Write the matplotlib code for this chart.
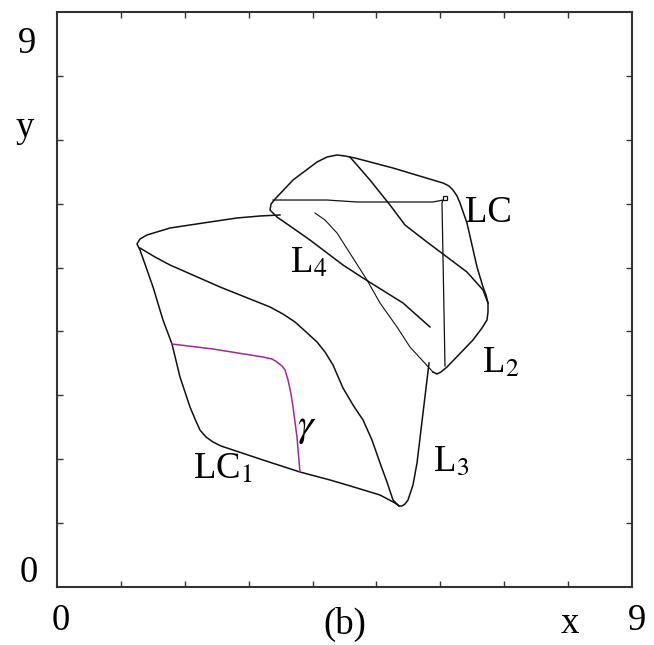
import matplotlib
matplotlib.use("Agg")
import matplotlib.pyplot as plt

plt.rcParams['font.family'] = ['Liberation Serif', 'DejaVu Serif']
plt.rcParams['mathtext.fontset'] = 'stix'

# ---- data ----
# LC1 boundary: upper edge -> left tip -> left edge -> bottom -> V bottom -> right branch of L3
lc1_x = [3.490, 3.177, 2.817, 2.285, 1.769, 1.409, 1.299, 1.252, 1.299, 1.503, 1.659, 1.800,
         1.925, 2.082, 2.160, 2.238, 2.332, 2.442, 2.567, 2.708, 3.224, 3.803, 4.273, 4.539,
         5.056, 5.290, 5.353, 5.400, 5.447, 5.494, 5.572, 5.635, 5.729, 5.791, 5.823]
lc1_y = [5.823, 5.807, 5.776, 5.697, 5.619, 5.510, 5.447, 5.369, 5.275, 4.696, 4.179, 3.803,
         3.287, 2.817, 2.630, 2.457, 2.348, 2.270, 2.207, 2.160, 1.988, 1.800, 1.675, 1.597,
         1.440, 1.315, 1.268, 1.268, 1.299, 1.362, 1.597, 1.941, 2.723, 3.240, 3.506]

# L3 left branch (from left tip to V bottom)
l3_x = [1.299, 1.534, 1.769, 2.160, 2.551, 3.021, 3.334, 3.537, 3.725, 3.882, 4.070, 4.195,
        4.320, 4.476, 4.633, 4.790, 4.930, 5.056, 5.165, 5.259, 5.353]
l3_y = [5.306, 5.165, 5.040, 4.868, 4.696, 4.508, 4.383, 4.273, 4.148, 4.007, 3.835, 3.678,
        3.475, 3.115, 2.849, 2.614, 2.301, 1.941, 1.643, 1.362, 1.268]

# gamma curve
gam_x = [1.800, 2.442, 3.224, 3.365, 3.443, 3.522, 3.569, 3.616, 3.663, 3.694, 3.756, 3.803]
gam_y = [3.803, 3.725, 3.600, 3.569, 3.522, 3.459, 3.397, 3.240, 3.021, 2.817, 2.348, 1.800]

# LC loop (thick part)
lc_x = [5.838, 5.416, 4.790, 4.476, 3.960, 3.647, 3.443, 3.334, 3.350, 3.428, 3.694, 4.070,
        4.226, 4.383, 4.508, 4.664, 5.259, 6.042, 6.136, 6.198, 6.261, 6.308, 6.417, 6.574,
        6.668, 6.715, 6.746, 6.746, 6.730, 6.652, 6.511, 6.104, 6.010, 5.948, 5.885]
lc_y = [4.070, 4.445, 4.836, 5.040, 5.431, 5.650, 5.791, 5.901, 5.995, 6.089, 6.370, 6.652,
        6.730, 6.762, 6.746, 6.715, 6.558, 6.323, 6.276, 6.214, 6.120, 6.010, 5.697, 5.009,
        4.696, 4.570, 4.445, 4.304, 4.179, 4.054, 3.866, 3.443, 3.365, 3.334, 3.365]

# L4 thin trajectory
l4_x = [5.885, 5.525, 5.322, 5.056, 4.852, 4.383, 4.195, 4.038]
l4_y = [3.365, 3.756, 4.070, 4.445, 4.805, 5.541, 5.744, 5.854]

# S-shaped curve inside the LC loop
s_x = [4.586, 4.899, 5.212, 5.447, 5.791, 6.104, 6.417, 6.668, 6.746]
s_y = [6.730, 6.370, 5.979, 5.666, 5.400, 5.165, 4.930, 4.649, 4.445]

# L2: horizontal then vertical segment
l2_x = [3.381, 4.226, 4.696, 5.885, 6.042, 6.026, 6.073]
l2_y = [6.057, 6.057, 6.026, 6.026, 6.057, 6.010, 3.459]
pt_x = [6.073]
pt_y = [6.088]

# ---- figure ----
fig = plt.figure(figsize=(6.54, 6.45), dpi=100)
ax = fig.add_axes([57/654, (645-587)/645, 575/654, 575/645])
ax.set_xlim(0, 9)
ax.set_ylim(0, 9)

k = '#111111'
ax.plot(lc1_x, lc1_y, color=k, lw=1.1, solid_joinstyle='round')
ax.plot(l3_x, l3_y, color=k, lw=1.1, solid_joinstyle='round')
ax.plot(gam_x, gam_y, color='#9b2a9b', lw=1.1, solid_joinstyle='round')
ax.plot(lc_x, lc_y, color=k, lw=1.1, solid_joinstyle='round')
ax.plot(l4_x, l4_y, color=k, lw=0.8)
ax.plot(s_x, s_y, color=k, lw=1.1, solid_joinstyle='round')
ax.plot(l2_x, l2_y, color=k, lw=0.9)
ax.plot(pt_x, pt_y, 's', ms=3, mfc='white', mec=k, mew=0.9)

ax.set_xticks(range(1, 9))
ax.set_yticks(range(1, 9))
ax.set_xticklabels([])
ax.set_yticklabels([])
ax.tick_params(direction='in', length=4, width=1, color='#333333',
               top=True, right=True, bottom=True, left=True)
for s in ax.spines.values():
    s.set_linewidth(1.5)
    s.set_color('#333333')

fs = 26.5
tr = ax.transAxes
ax.text(0.007, -0.0748, '0', transform=tr, ha='center', va='baseline', fontsize=fs)
ax.text(1.0087, -0.0748, '9', transform=tr, ha='center', va='baseline', fontsize=fs)
ax.text(0.892, -0.080, 'x', transform=tr, ha='center', va='baseline', fontsize=fs)
ax.text(0.501, -0.0820, '(b)', transform=tr, ha='center', va='baseline', fontsize=fs)
ax.text(-0.052, 0.9287, '9', transform=tr, ha='center', va='baseline', fontsize=fs)
ax.text(-0.0557, 0.7826, 'y', transform=tr, ha='center', va='baseline', fontsize=fs)
ax.text(-0.0487, 0.0087, '0', transform=tr, ha='center', va='baseline', fontsize=fs)

ax.text(6.386, 5.713, 'LC', ha='left', va='baseline', fontsize=fs)
ax.text(3.647, 4.930, r'L$_4$', ha='left', va='baseline', fontsize=fs)
ax.text(6.652, 3.365, r'L$_2$', ha='left', va='baseline', fontsize=fs)
ax.text(5.885, 1.816, r'L$_3$', ha='left', va='baseline', fontsize=fs)
ax.text(2.129, 1.706, r'LC$_1$', ha='left', va='baseline', fontsize=fs)
ax.text(3.913, 2.489, r'$\gamma$', ha='center', va='center', fontsize=fs + 2)

fig.savefig('out.png', dpi=100)
